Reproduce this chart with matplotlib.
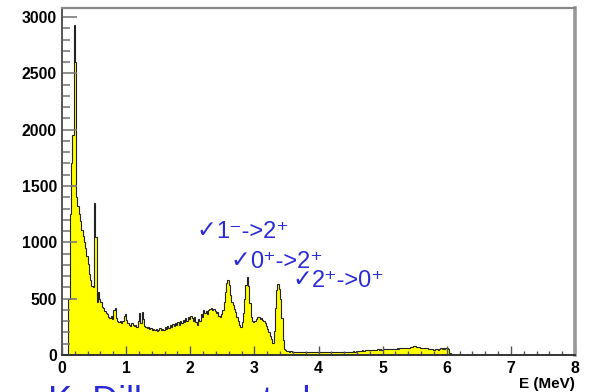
import numpy as np
import matplotlib
matplotlib.use("Agg")
import matplotlib.pyplot as plt
from matplotlib import font_manager

# Gamma energy spectrum, counts per 0.02 MeV bin starting at 0 MeV
bin_width = 0.02
counts = [
    0, 0, 0, 0, 0, 500, 1250, 1700, 1950, 2930,            # 0.0 - 0.2
    2600, 1400, 1320, 1250, 1190, 1110, 1060, 1000, 950, 880,  # 0.2 - 0.4
    810, 720, 670, 610, 600, 1350, 1050, 470, 560, 500,    # 0.4 - 0.6
    470, 430, 420, 390, 370, 360, 340, 330, 350, 320,      # 0.6 - 0.8
    400, 420, 330, 300, 290, 300, 280, 300, 350, 360,      # 0.8 - 1.0
    310, 280, 270, 260, 280, 265, 255, 270, 250, 300,      # 1.0 - 1.2
    370, 280, 380, 320, 260, 250, 240, 245, 230, 240,      # 1.2 - 1.4
    225, 235, 220, 230, 215, 225, 240, 220, 235, 225,      # 1.4 - 1.6
    250, 230, 260, 240, 270, 250, 275, 255, 280, 265,      # 1.6 - 1.8
    290, 270, 300, 285, 310, 290, 330, 300, 340, 320,      # 1.8 - 2.0
    350, 330, 300, 340, 290, 270, 320, 300, 360, 340,      # 2.0 - 2.2
    400, 370, 390, 360, 400, 410, 420, 400, 410, 390,      # 2.2 - 2.4
    370, 380, 350, 340, 360, 400, 470, 560, 640, 665,      # 2.4 - 2.6
    620, 530, 470, 440, 410, 380, 340, 300, 270, 250,      # 2.6 - 2.8
    290, 370, 500, 620, 690, 610, 460, 340, 300, 290,      # 2.8 - 3.0
    300, 320, 340, 335, 320, 330, 315, 300, 280, 260,      # 3.0 - 3.2
    230, 200, 170, 140, 110, 210, 420, 580, 627, 590,      # 3.2 - 3.4
    500, 330, 130, 55, 40, 35, 32, 30, 33, 28,             # 3.4 - 3.6
    30, 27, 31, 29, 26, 30, 28, 25, 29, 27,                # 3.6 - 3.8
    26, 28, 25, 27, 24, 26, 28, 25, 27, 24,                # 3.8 - 4.0
    25, 27, 24, 26, 23, 25, 27, 24, 26, 25,                # 4.0 - 4.2
    24, 26, 28, 25, 27, 24, 26, 28, 25, 27,                # 4.2 - 4.4
    26, 28, 30, 27, 29, 31, 28, 32, 30, 34,                # 4.4 - 4.6
    33, 36, 38, 35, 40, 38, 42, 40, 44, 42,                # 4.6 - 4.8
    45, 43, 47, 45, 48, 46, 50, 47, 49, 48,                # 4.8 - 5.0
    50, 52, 49, 53, 51, 55, 52, 54, 56, 53,                # 5.0 - 5.2
    55, 58, 56, 60, 58, 62, 60, 64, 62, 66,                # 5.2 - 5.4
    65, 70, 68, 74, 80, 76, 72, 68, 70, 65,                # 5.4 - 5.6
    66, 62, 64, 58, 60, 55, 57, 52, 50, 48,                # 5.6 - 5.8
    46, 50, 52, 48, 55, 58, 54, 60, 57, 62,                # 5.8 - 6.0
    60, 55, 20, 5, 3, 3, 2, 2, 2, 2,                       # 6.0 - 6.2
]
edges = np.arange(len(counts) + 1) * bin_width

x_ticks = [0, 1, 2, 3, 4, 5, 6, 7, 8]
y_ticks = [0, 500, 1000, 1500, 2000, 2500, 3000]
x_label = "E (MeV)"
transitions = ["1\u207b->2\u207a", "0\u207a->2\u207a", "2\u207a->0\u207a"]
footer = "K. Dillmann et al."

W, H = 598, 392
fig = plt.figure(figsize=(W / 100, H / 100), dpi=100)
ax = fig.add_axes([62 / W, 1 - 355 / H, (575 - 62) / W, (355 - 8) / H])

ax.stairs(counts, edges, fill=True, color="#ffff00", linewidth=0)
ax.stairs(counts, edges, color="#222222", linewidth=0.8)

ax.set_xlim(0, 8)
ax.set_ylim(0, 3080)
ax.set_xticks(x_ticks)
ax.set_xticks(np.arange(0, 8.001, 0.2), minor=True)
ax.set_yticks(y_ticks)
ax.set_yticks(np.arange(0, 3001, 100), minor=True)

bold_fp = font_manager.FontProperties(family="Liberation Sans", weight="bold", size=11.4)
ax.set_xticklabels([str(v) for v in x_ticks], fontproperties=bold_fp)
ax.set_yticklabels([str(v) for v in y_ticks], fontproperties=bold_fp)

ax.tick_params(axis="y", which="major", direction="in", length=10.8, width=1.2,
               color="#7a7a7a", pad=3.6)
ax.tick_params(axis="y", which="minor", direction="in", length=5.8, width=1.2,
               color="#7a7a7a")
ax.tick_params(axis="x", which="major", direction="in", length=6.5, width=1.0,
               color="#555555", pad=4)
ax.tick_params(axis="x", which="minor", direction="in", length=3.2, width=1.0,
               color="#555555")

ax.spines["left"].set_color("#555555")
ax.spines["left"].set_linewidth(1.4)
ax.spines["bottom"].set_color("#333333")
ax.spines["bottom"].set_linewidth(1.4)
ax.spines["top"].set_color("#888888")
ax.spines["top"].set_linewidth(1.6)
ax.spines["right"].set_color("#999999")
ax.spines["right"].set_linewidth(2.6)

xl_fp = font_manager.FontProperties(family="Liberation Sans", weight="bold", size=11)
fig.text(575 / W, 1 - 388 / H, x_label, ha="right", va="baseline", fontproperties=xl_fp)

blue = "#2b2bd6"
label_font = ["Liberation Sans", "DejaVu Sans"]
positions = [(196, 238), (230, 268), (292, 287)]
for (px, py), txt in zip(positions, transitions):
    fig.text(px / W, 1 - (py - 1) / H, "\u2713", color=blue, fontsize=17,
             family=["DejaVu Sans"], va="baseline", ha="left")
    fig.text((px + 20) / W, 1 - py / H, txt, color=blue, fontsize=17,
             family=label_font, va="baseline", ha="left")

# reference line at the foot of the figure, partly outside the canvas
fig.text(48 / W, 1 - 412 / H, footer, color=blue, fontsize=26,
         family=label_font, va="baseline", ha="left")

fig.savefig("out.png", dpi=100)
